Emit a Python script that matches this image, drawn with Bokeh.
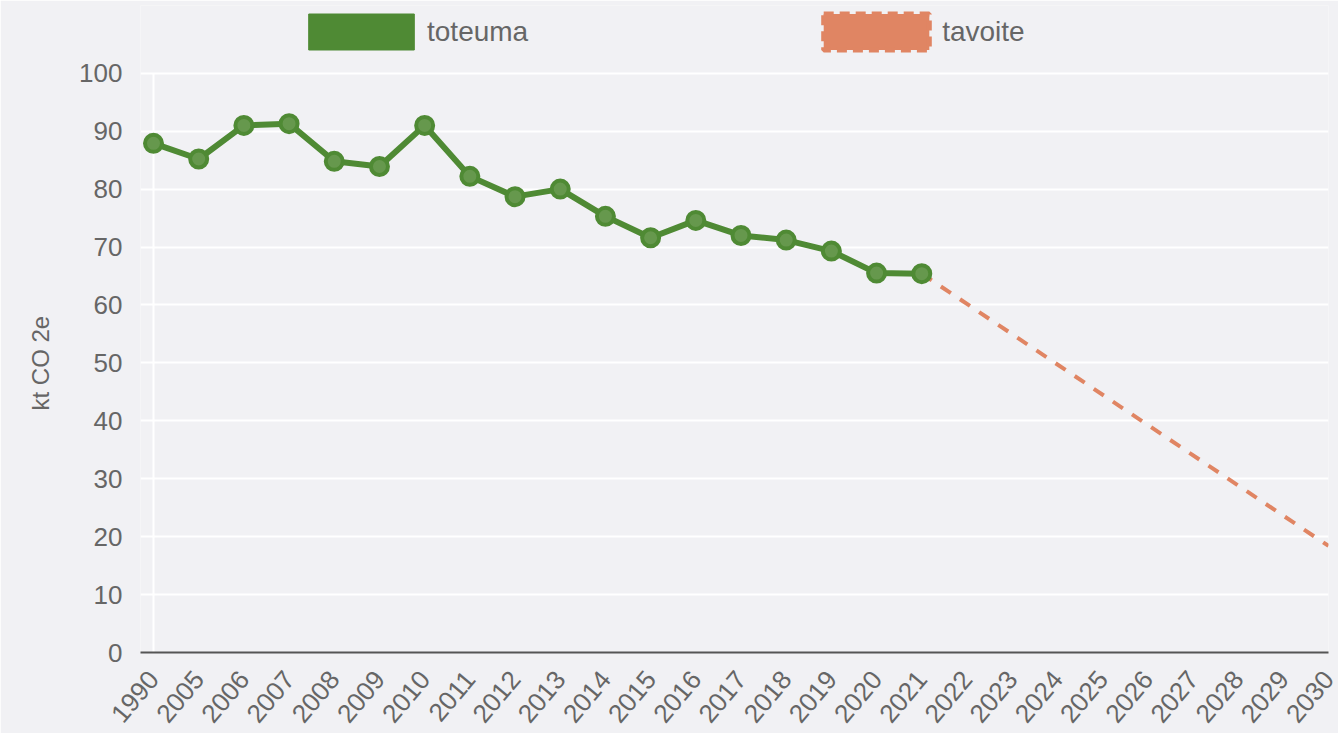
import math
from bokeh.plotting import figure
from bokeh.models import (Range1d, FixedTicker, Legend, LegendItem, ColumnDataSource, Title)
from bokeh.embed import file_html
from bokeh.resources import INLINE

# ---- data ----
years = ["1990", "2005", "2006", "2007", "2008", "2009", "2010", "2011", "2012",
         "2013", "2014", "2015", "2016", "2017", "2018", "2019", "2020", "2021",
         "2022", "2023", "2024", "2025", "2026", "2027", "2028", "2029", "2030"]
actual_years = ["1990", "2005", "2006", "2007", "2008", "2009", "2010", "2011", "2012",
                "2013", "2014", "2015", "2016", "2017", "2018", "2019", "2020", "2021"]
actual_values = [87.9, 85.2, 91.0, 91.3, 84.8, 83.9, 91.0, 82.2, 78.7,
                 80.0, 75.3, 71.6, 74.6, 72.0, 71.2, 69.3, 65.5, 65.4]
target_years = ["2021", "2030"]
target_values = [65.4, 18.4]
y_ticks = [0, 10, 20, 30, 40, 50, 60, 70, 80, 90, 100]
series_names = ["toteuma", "tavoite"]
y_title = "kt CO 2e"

GREEN = "#4f8a34"
ORANGE = "#e08563"
BG = "#f1f1f4"
TXT = "#666666"
FONT = "Liberation Sans"

pos = {y: i for i, y in enumerate(years)}
y_max = max(y_ticks)

# frame spans from the top of the page so the legend can live inside it
p = figure(width=1338, height=733, output_backend="svg", toolbar_location=None,
           x_range=Range1d(-0.2877, len(years) - 1), y_range=Range1d(0, y_max * 1.117),
           background_fill_color=BG, border_fill_color=BG, outline_line_color=None,
           min_border_left=140, min_border_right=10, min_border_top=5, min_border_bottom=79)

# grid
p.xgrid.grid_line_color = None
p.ygrid.grid_line_color = "white"
p.ygrid.grid_line_width = 2
p.ygrid.ticker = FixedTicker(ticks=y_ticks)
# vertical grid line at the first category, only over the value range
p.segment(x0=[0], y0=[0], x1=[0], y1=[y_max], line_color="white", line_width=2)

# y axis
p.yaxis.ticker = FixedTicker(ticks=y_ticks)
p.yaxis.axis_line_color = None
p.yaxis.major_tick_line_color = None
p.yaxis.minor_tick_line_color = None
p.yaxis.major_label_text_font_size = "26px"
p.yaxis.major_label_text_color = TXT
p.yaxis.major_label_text_font = FONT
p.yaxis.major_label_standoff = 12

# y axis title, placed alongside the 0..100 value band
p.add_layout(Title(text=y_title, align="left", offset=242, standoff=46,
                   text_font_size="24px", text_font_style="normal",
                   text_color=TXT, text_font=FONT), "left")

# x axis
p.xaxis.ticker = FixedTicker(ticks=list(range(len(years))))
p.xaxis.major_label_overrides = {i: y for i, y in enumerate(years)}
p.xaxis.major_label_orientation = math.radians(50)
p.xaxis.axis_line_color = "#555555"
p.xaxis.axis_line_width = 2
p.xaxis.major_tick_line_color = None
p.xaxis.minor_tick_line_color = None
p.xaxis.major_label_text_font_size = "26px"
p.xaxis.major_label_text_color = TXT
p.xaxis.major_label_text_font = FONT
p.xaxis.major_label_standoff = 16

# series
src_a = ColumnDataSource(dict(x=[pos[y] for y in actual_years], y=actual_values))
src_t = ColumnDataSource(dict(x=[pos[y] for y in target_years], y=target_values))

p.line("x", "y", source=src_t, line_color=ORANGE, line_width=4, line_dash="12 11")
p.line("x", "y", source=src_a, line_color=GREEN, line_width=6)
p.scatter("x", "y", source=src_a, size=17, marker="circle", line_color=GREEN,
          line_width=4, fill_color="#66984d")

# legend swatches (glyphs with no drawable coordinates, used only for the legend)
nan = float("nan")
dummy_g = p.quad(left=[nan], right=[nan], top=[nan], bottom=[nan],
                 fill_color=GREEN, line_color=GREEN, line_width=1)
dummy_o = p.quad(left=[nan], right=[nan], top=[nan], bottom=[nan],
                 fill_color=ORANGE, line_color=ORANGE, line_width=5, line_dash="10 6")

legend = Legend(items=[LegendItem(label=series_names[0], renderers=[dummy_g]),
                       LegendItem(label=series_names[1], renderers=[dummy_o])],
                location=(155, 598), orientation="horizontal",
                glyph_width=132, glyph_height=45, label_standoff=0, spacing=282,
                padding=0, margin=0, border_line_alpha=0, background_fill_alpha=0,
                label_text_font_size="28px", label_text_color=TXT, label_text_font=FONT)
p.add_layout(legend)

open("out.html", "w").write(file_html(p, INLINE))
